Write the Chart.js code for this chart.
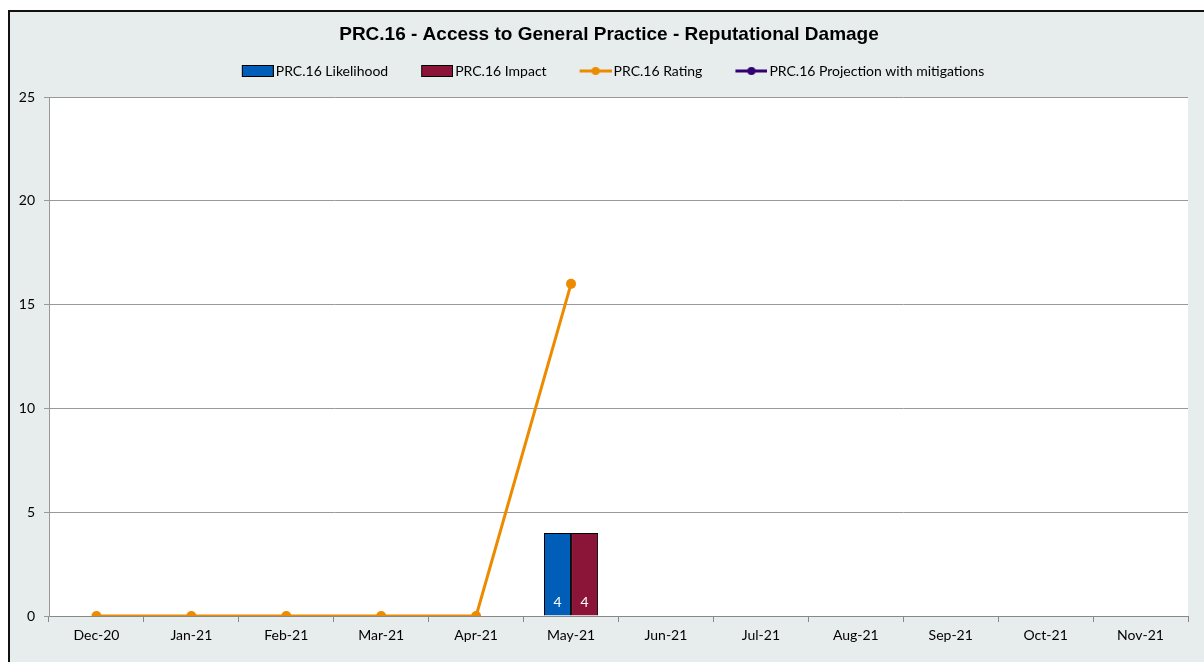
<!DOCTYPE html>
<html>
<head>
<meta charset="utf-8">
<script src="https://cdn.jsdelivr.net/npm/chart.js@4.4.0/dist/chart.umd.min.js"></script>
<style>
  html, body { margin: 0; padding: 0; background: #fff; }
  #frame {
    position: absolute; left: 8px; top: 10px;
    width: 1194px; height: 650px;
    border-left: 2px solid #111; border-top: 2px solid #111;
    background: #e7ecec;
  }
  #chart { display: block; }
</style>
</head>
<body>
<div id="frame"><canvas id="chart" width="1194" height="650"></canvas></div>
<script>
const months = ['Dec-20', 'Jan-21', 'Feb-21', 'Mar-21', 'Apr-21', 'May-21', 'Jun-21', 'Jul-21', 'Aug-21', 'Sep-21', 'Oct-21', 'Nov-21'];
const likelihood = [null, null, null, null, null, 4, null, null, null, null, null, null];
const impact = [null, null, null, null, null, 4, null, null, null, null, null, null];
const rating = [0, 0, 0, 0, 0, 16, null, null, null, null, null, null];
const projection = [null, null, null, null, null, null, null, null, null, null, null, null];
const yTicks = [0, 5, 10, 15, 20, 25];

const BLUE = '#005eb8', RED = '#8a1538', ORANGE = '#ed8b00', PURPLE = '#330072';
const FONT = 'Lato';

// legend swatches like Excel: a bordered box for bars, a line with a dot for lines
function legendIcon(kind, color) {
    const c = document.createElement('canvas');
    c.width = 57; c.height = 14;
    const g = c.getContext('2d');
    if (kind === 'bar') {
        g.fillStyle = color;
        g.fillRect(25.5, 1.5, 31, 11);
        g.strokeStyle = '#000';
        g.lineWidth = 1;
        g.strokeRect(25.5, 1.5, 31, 11);
    } else {
        g.strokeStyle = color;
        g.lineWidth = 3;
        g.beginPath(); g.moveTo(25, 7); g.lineTo(57, 7); g.stroke();
        g.fillStyle = color;
        g.beginPath(); g.arc(41, 7, 4, 0, Math.PI * 2); g.fill();
    }
    return c;
}

const plotBg = {
    id: 'plotBg',
    beforeDraw(chart) {
        const { ctx, chartArea: a } = chart;
        ctx.save();
        ctx.fillStyle = '#fff';
        ctx.fillRect(a.left, a.top, a.right - a.left, a.bottom - a.top);
        ctx.restore();
    }
};

// Excel centres title/legend a bit right of the canvas middle
const centerShift = {
    id: 'centerShift',
    afterLayout(chart) {
        chart.titleBlock.left += 10;
        chart.titleBlock.right += 10;
        chart.legend.left += 4;
        chart.legend.right += 4;
    }
};

const barLabels = {
    id: 'barLabels',
    afterDatasetsDraw(chart) {
        const ctx = chart.ctx;
        ctx.save();
        ctx.font = '14px ' + FONT;
        ctx.fillStyle = '#fff';
        ctx.textAlign = 'center';
        ctx.textBaseline = 'middle';
        chart.data.datasets.forEach((ds, i) => {
            if (ds.type !== 'bar') return;
            chart.getDatasetMeta(i).data.forEach((el, j) => {
                const v = ds.data[j];
                if (v == null) return;
                ctx.fillText(v, el.x, el.base - 13);
            });
        });
        ctx.restore();
    }
};

const ctx = document.getElementById('chart').getContext('2d');
new Chart(ctx, {
    data: {
        labels: months,
        datasets: [
            {
                type: 'bar',
                label: 'PRC.16 Likelihood',
                data: likelihood,
                backgroundColor: BLUE,
                borderColor: '#000',
                borderWidth: 1,
                order: 2,
                icon: legendIcon('bar', BLUE)
            },
            {
                type: 'bar',
                label: 'PRC.16 Impact',
                data: impact,
                backgroundColor: RED,
                borderColor: '#000',
                borderWidth: 1,
                order: 2,
                icon: legendIcon('bar', RED)
            },
            {
                type: 'line',
                label: 'PRC.16 Rating',
                data: rating,
                borderColor: ORANGE,
                backgroundColor: ORANGE,
                borderWidth: 3,
                pointRadius: 5,
                pointBorderWidth: 0,
                pointBackgroundColor: ORANGE,
                order: 1,
                icon: legendIcon('line', ORANGE)
            },
            {
                type: 'line',
                label: 'PRC.16 Projection with mitigations',
                data: projection,
                borderColor: PURPLE,
                backgroundColor: PURPLE,
                borderWidth: 3,
                pointRadius: 5,
                pointBorderWidth: 0,
                order: 1,
                icon: legendIcon('line', PURPLE)
            }
        ]
    },
    options: {
        responsive: false,
        animation: false,
        layout: { padding: { left: 0, right: 16, top: 0, bottom: 0 } },
        plugins: {
            title: {
                display: true,
                text: 'PRC.16 - Access to General Practice - Reputational Damage',
                color: '#000',
                font: { family: 'Liberation Sans', size: 19, weight: 'bold', lineHeight: 1.2 },
                padding: { top: 11.6, bottom: 4.6 }
            },
            subtitle: {
                display: true,
                text: ' ',
                weight: 500,
                font: { size: 1, lineHeight: 1 },
                padding: 4
            },
            legend: {
                position: 'top',
                labels: {
                    usePointStyle: true,
                    pointStyleWidth: 47,
                    boxHeight: 14,
                    padding: 13,
                    color: '#000',
                    font: { family: FONT, size: 14 },
                    generateLabels(chart) {
                        return chart.data.datasets.map((ds, i) => ({
                            text: ds.label,
                            pointStyle: ds.icon,
                            fillStyle: ds.backgroundColor,
                            strokeStyle: ds.borderColor,
                            lineWidth: 0,
                            fontColor: '#000',
                            hidden: false,
                            datasetIndex: i
                        }));
                    }
                }
            },
            tooltip: { enabled: false }
        },
        datasets: {
            bar: { barPercentage: 1, categoryPercentage: 0.57 }
        },
        scales: {
            x: {
                offset: true,
                grid: { offset: true, drawOnChartArea: false, drawTicks: true, tickLength: 6, color: '#888' },
                border: { color: '#888' },
                ticks: { color: '#000', font: { family: FONT, size: 14 }, padding: 5, maxRotation: 0, autoSkip: false },
                afterFit(s) { s.height = 46; }
            },
            y: {
                min: 0,
                max: 25,
                afterBuildTicks(s) { s.ticks = yTicks.map(v => ({ value: v })); },
                grid: { color: '#999', tickLength: 5 },
                border: { color: '#999' },
                ticks: { color: '#000', font: { family: FONT, size: 14 }, padding: 9 },
                afterFit(s) { s.width = 39; }
            }
        }
    },
    plugins: [plotBg, centerShift, barLabels]
});
</script>
</body>
</html>
